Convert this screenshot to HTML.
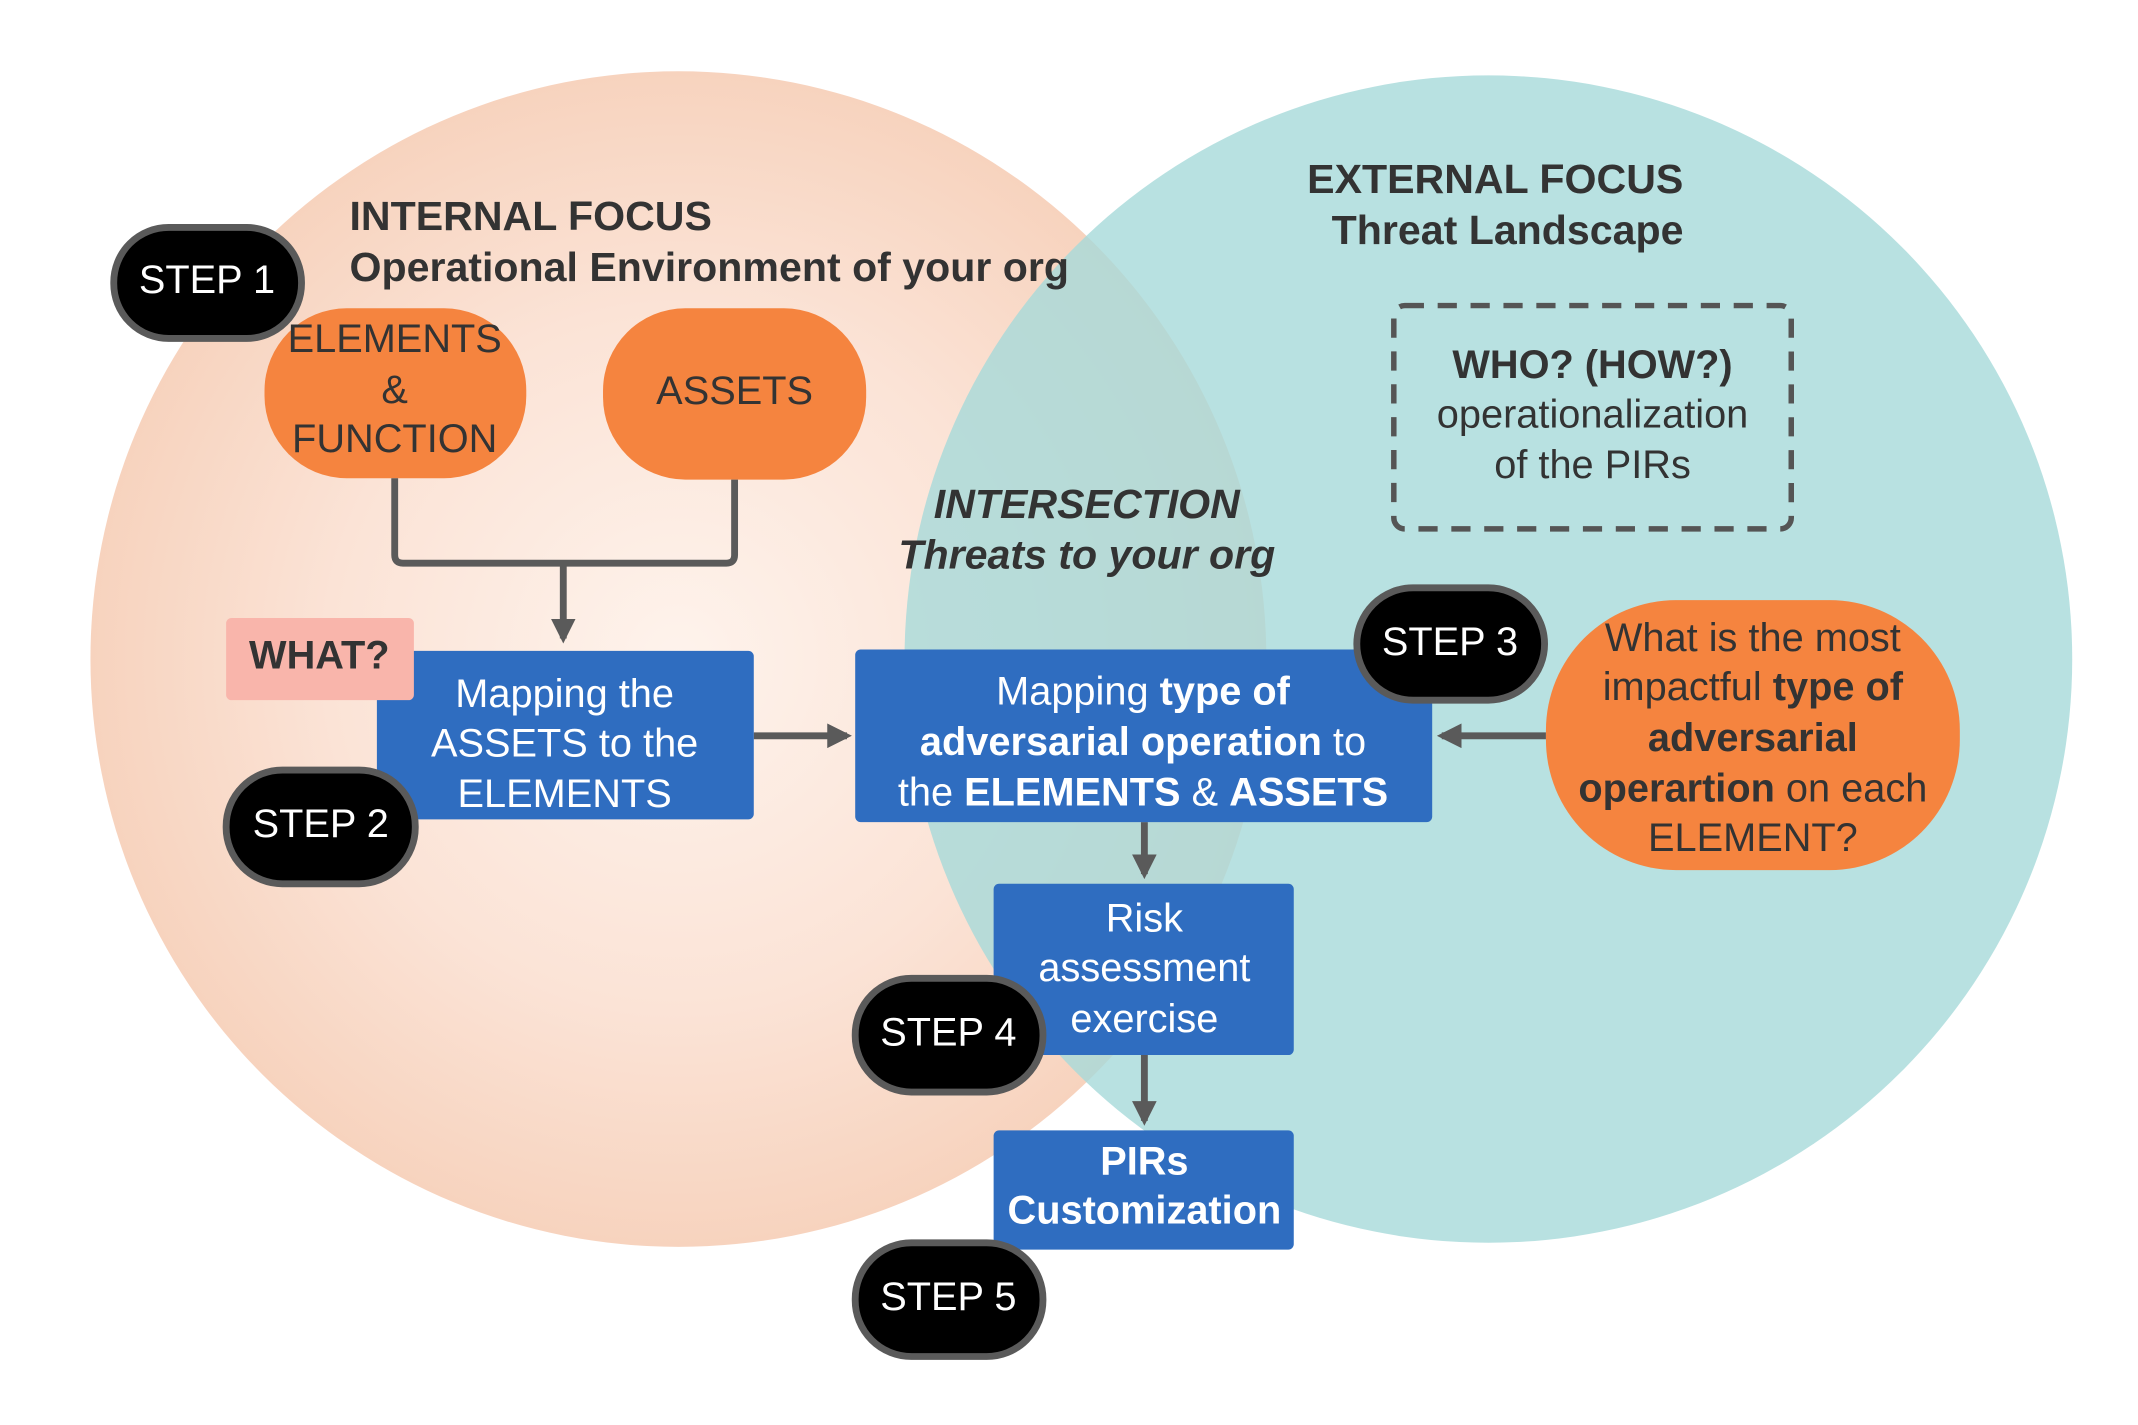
<!DOCTYPE html>
<html><head><meta charset="utf-8"><style>
html,body{margin:0;padding:0;background:#fff;}
svg{display:block;}
text{font-family:"Liberation Sans",sans-serif;}
</style></head><body>
<svg width="2138" height="1425" viewBox="0 0 1560 1040" preserveAspectRatio="none" xmlns="http://www.w3.org/2000/svg">
<defs>
<radialGradient id="lg" cx="0.5" cy="0.5" r="0.5">
<stop offset="0" stop-color="#fef3ec"/>
<stop offset="0.6" stop-color="#fbe3d6"/>
<stop offset="1" stop-color="#f7d3be"/>
</radialGradient>
<marker id="ah" viewBox="0 0 10 10" refX="8" refY="5" markerWidth="3.6" markerHeight="3.6" orient="auto">
<path d="M0,0 L10,5 L0,10 z" fill="#5a5a5a"/>
</marker>
</defs>
<rect width="1560" height="1040" fill="#fff"/>
<circle cx="495" cy="481" r="429" fill="url(#lg)"/>
<circle cx="1086" cy="481" r="426" fill="#a6d9d9" fill-opacity="0.8"/>

<g font-size="30" font-weight="bold" fill="#333">
<text x="255" y="168">INTERNAL FOCUS</text>
<text x="255" y="205">Operational Environment of your org</text>
<text x="1091" y="141" text-anchor="middle">EXTERNAL FOCUS</text>
<text x="1100" y="178" text-anchor="middle">Threat Landscape</text>
<text x="793" y="378" text-anchor="middle" font-style="italic">INTERSECTION</text>
<text x="793" y="415" text-anchor="middle" font-style="italic">Threats to your org</text>
</g>

<rect x="1017" y="223" width="290" height="163" rx="8" fill="none" stroke="#555" stroke-width="4" stroke-dasharray="14,10"/>
<g font-size="29" fill="#333" text-anchor="middle">
<text x="1162" y="276" font-weight="bold">WHO? (HOW?)</text>
<text x="1162" y="312">operationalization</text>
<text x="1162" y="349">of the PIRs</text>
</g>

<rect x="193" y="225" width="191" height="124" rx="60" fill="#f5843f"/>
<rect x="440" y="225" width="192" height="125" rx="60" fill="#f5843f"/>
<g font-size="29" fill="#333" text-anchor="middle">
<text x="288" y="257">ELEMENTS</text>
<text x="288" y="294">&amp;</text>
<text x="288" y="330">FUNCTION</text>
<text x="536" y="295">ASSETS</text>
</g>

<g stroke="#5a5a5a" stroke-width="5" fill="none">
<path d="M288,349 V405 Q288,411 294,411 H530 Q536,411 536,405 V350"/>
<path d="M411,411 V466" marker-end="url(#ah)"/>
<path d="M550,537 H618" marker-end="url(#ah)"/>
<path d="M1128,537 H1052" marker-end="url(#ah)"/>
<path d="M835,600 V638" marker-end="url(#ah)"/>
<path d="M835,770 V818" marker-end="url(#ah)"/>
</g>

<g fill="#2f6dc0">
<rect x="275" y="475" width="275" height="123" rx="4"/>
<rect x="624" y="474" width="421" height="126" rx="4"/>
<rect x="725" y="645" width="219" height="125" rx="4"/>
<rect x="725" y="825" width="219" height="87" rx="4"/>
</g>

<rect x="165" y="451" width="137" height="60" rx="4" fill="#f9b5ab"/>
<text x="233" y="488" font-size="29" font-weight="bold" fill="#333" text-anchor="middle">WHAT?</text>

<g font-size="29" fill="#fff" text-anchor="middle">
<text x="412" y="516">Mapping the</text>
<text x="412" y="552">ASSETS to the</text>
<text x="412" y="589">ELEMENTS</text>
<text x="834" y="514">Mapping <tspan font-weight="bold">type of</tspan></text>
<text x="834" y="551"><tspan font-weight="bold">adversarial operation</tspan> to</text>
<text x="834" y="588">the <tspan font-weight="bold">ELEMENTS</tspan> &amp; <tspan font-weight="bold">ASSETS</tspan></text>
<text x="835" y="680">Risk</text>
<text x="835" y="716">assessment</text>
<text x="835" y="753">exercise</text>
<text x="835" y="857" font-weight="bold">PIRs</text>
<text x="835" y="893" font-weight="bold">Customization</text>
</g>

<rect x="1128" y="438" width="302" height="197" rx="95" fill="#f5843f"/>
<g font-size="29" fill="#333" text-anchor="middle">
<text x="1279" y="475">What is the most</text>
<text x="1279" y="511">impactful <tspan font-weight="bold">type of</tspan></text>
<text x="1279" y="548" font-weight="bold">adversarial</text>
<text x="1279" y="585"><tspan font-weight="bold">operartion</tspan> on each</text>
<text x="1279" y="621">ELEMENT?</text>
</g>

<g fill="#000" stroke="#5a5a5a" stroke-width="5">
<rect x="83" y="166" width="137" height="81" rx="40"/>
<rect x="165" y="562" width="138" height="83" rx="41"/>
<rect x="990" y="429" width="137" height="82" rx="41"/>
<rect x="624" y="714" width="137" height="83" rx="41"/>
<rect x="624" y="907" width="137" height="83" rx="41"/>
</g>
<g font-size="29" fill="#fff" text-anchor="middle">
<text x="151" y="214">STEP 1</text>
<text x="234" y="611">STEP 2</text>
<text x="1058" y="478">STEP 3</text>
<text x="692" y="763">STEP 4</text>
<text x="692" y="956">STEP 5</text>
</g>
</svg>
</body></html>
